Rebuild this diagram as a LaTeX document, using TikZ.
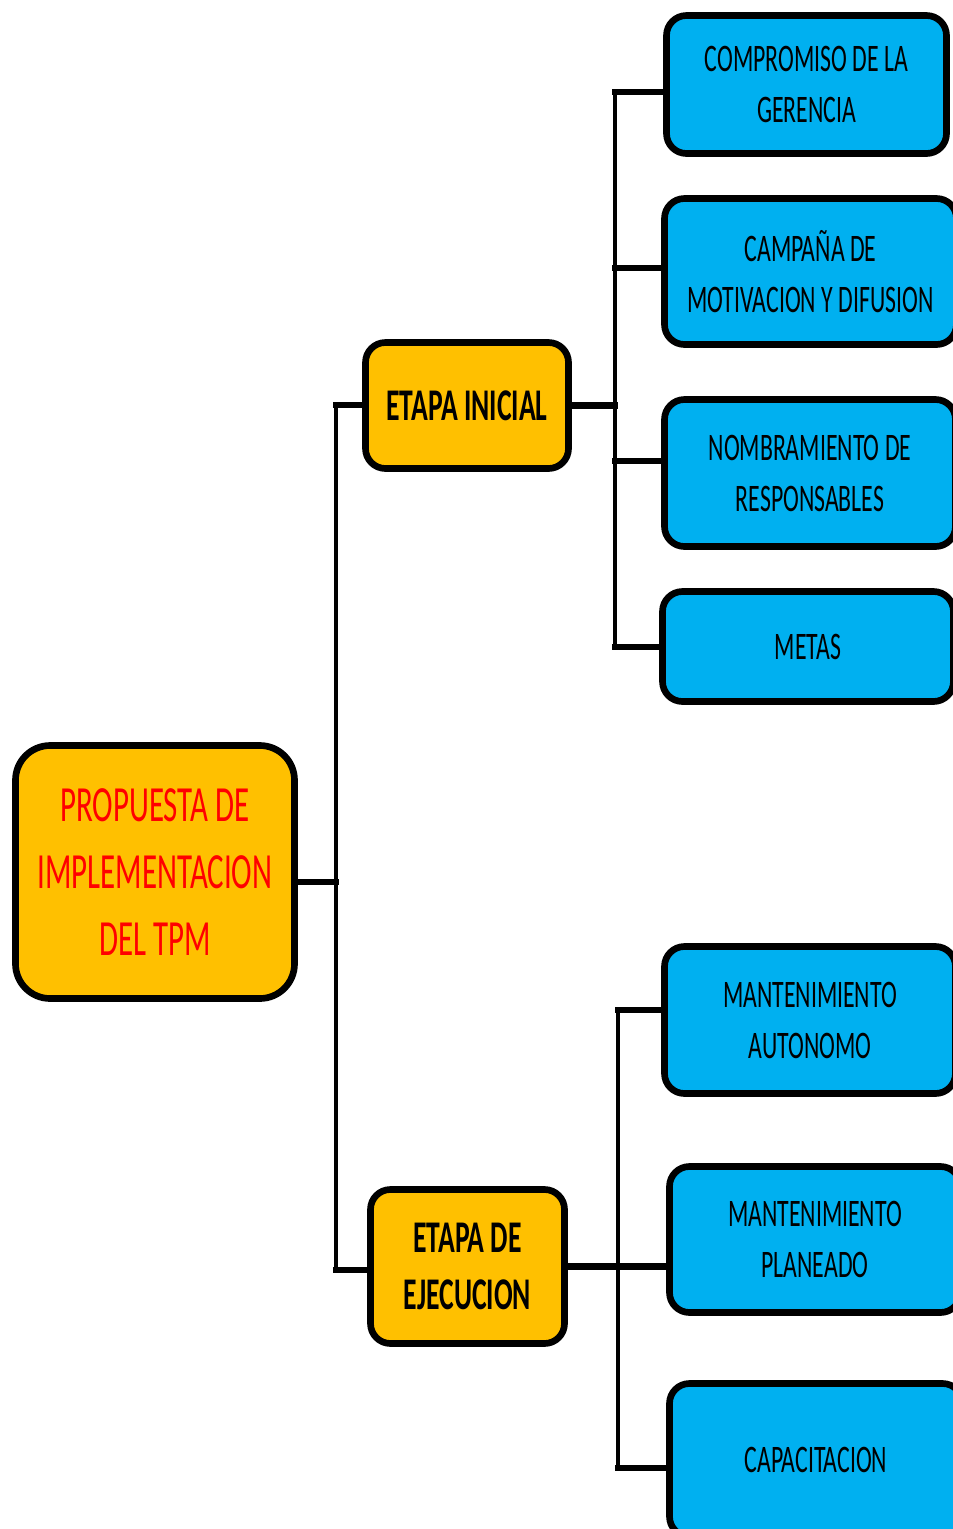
\documentclass[tikz,border=0pt]{standalone}
\usepackage{fontspec}
\setmainfont{Carlito}[FakeStretch=0.61]
\definecolor{boxorange}{HTML}{FFC000}
\definecolor{boxblue}{HTML}{00B0F0}
\definecolor{titlered}{HTML}{FF0000}
\begin{document}
\begin{tikzpicture}[x=0.75pt,y=-0.75pt,
  panel/.style n args={2}{draw=black,line width=5pt,align=center,inner sep=0pt,
    minimum width=#1*0.75pt,minimum height=#2*0.75pt},
  rootbox/.style={panel={279}{253},rounded corners=26pt,fill=boxorange,text=titlered,
    font=\fontsize{38}{50.25}\selectfont},
  stagebox/.style={rounded corners=15pt,fill=boxorange,
    font=\bfseries\fontsize{34}{42.75}\selectfont},
  taskbox/.style={rounded corners=15pt,fill=boxblue,
    font=\fontsize{29.25}{38.25}\selectfont},
  hline/.style={line width=5pt,line cap=rect},
  vline/.style={line width=3pt}]
\useasboundingbox (0,0) rectangle (953,1529);
\clip (0,0) rectangle (953,1529);

% root
\node[rootbox] (root) at (155,872) {PROPUESTA DE\\IMPLEMENTACION\\DEL TPM};

% stages
\node[panel={203}{126},stagebox] (ini) at (467,405.5) {ETAPA INICIAL};
\node[panel={194}{154},stagebox] (eje) at (467.5,1266.5) {ETAPA DE\\EJECUCION};

% tasks of the initial stage
\node[panel={280}{138},taskbox] (b1) at (806.5,84.5) {COMPROMISO DE LA\\GERENCIA};
\node[panel={292}{146},taskbox] (b2) at (810.5,271.5) {CAMPAÑA DE\\MOTIVACION Y DIFUSION};
\node[panel={291}{147},taskbox] (b3) at (810,473) {NOMBRAMIENTO DE\\RESPONSABLES};
\node[panel={291}{110},taskbox] (b4) at (808,646.5) {METAS};

% tasks of the execution stage
\node[panel={291}{147},taskbox] (b5) at (810,1020) {MANTENIMIENTO\\AUTONOMO};
\node[panel={291}{146},taskbox] (b6) at (815,1239.5) {MANTENIMIENTO\\PLANEADO};
\node[panel={293}{153},taskbox] (b7) at (816,1460) {CAPACITACION};

% main trunk
\coordinate (r1) at (336,882);
\coordinate (ta) at (336,405);
\coordinate (tb) at (336,1270);
\draw[vline] (ta) -- (tb);
\draw[hline] (root.east |- r1) -- (r1);
\draw[hline] (ta) -- (ta -| ini.west);
\draw[hline] (tb) -- (tb -| eje.west);

% initial stage branches
\coordinate (u1) at (615,92);
\coordinate (u2) at (615,268);
\coordinate (u3) at (615,461);
\coordinate (u4) at (615,647);
\draw[vline] (u1) -- (u4);
\draw[hline] (ini.east) -- (ini.east -| u1);
\draw[hline] (u1) -- (u1 -| b1.west);
\draw[hline] (u2) -- (u2 -| b2.west);
\draw[hline] (u3) -- (u3 -| b3.west);
\draw[hline] (u4) -- (u4 -| b4.west);

% execution stage branches
\coordinate (v1) at (618,1010);
\coordinate (v3) at (618,1468);
\draw[vline] (v1) -- (v3);
\draw[hline] (eje.east) -- (eje.east -| b6.west);
\draw[hline] (v1) -- (v1 -| b5.west);
\draw[hline] (v3) -- (v3 -| b7.west);
\end{tikzpicture}
\end{document}
